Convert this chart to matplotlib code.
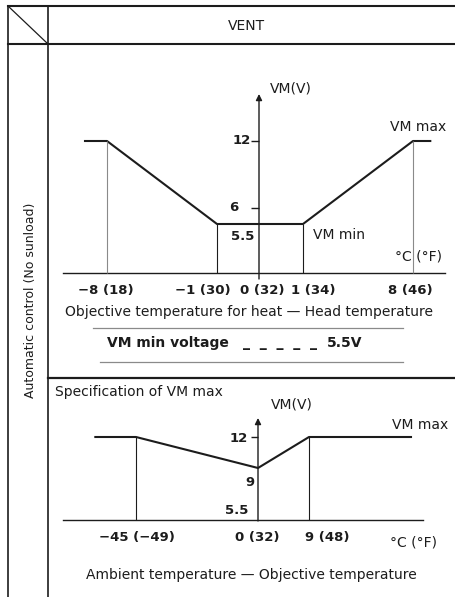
import numpy as np
import matplotlib.pyplot as plt
from matplotlib.markers import TICKLEFT

W, H = 455, 597
INK = '#1c1c1c'
GREY = '#8a8a8a'

# upper chart: objective temperature for heat - head temperature
heat_c = [-8, -1, 0, 1, 8]
heat_f = [18, 30, 32, 34, 46]
heat_curve_x = [-9.4, -8, -1, 1, 8, 9.1]
heat_curve_y = [12, 12, 5.5, 5.5, 12, 12]
heat_yticks = [12, 6, 5.5]
vm_min = 5.5
vm_max = 12

# lower chart: ambient temperature - objective temperature
amb_c = [-45, 0, 9]
amb_f = [-49, 32, 48]
amb_curve_x = [-60, -45, 0, 9, 27]
amb_curve_y = [12, 12, 9, 12, 12]
amb_yticks = [12, 9, 5.5]


def piecewise(vals, pix):
    # schematic (non-uniform) axis: piecewise linear between breakpoints
    v = np.asarray(vals, float)
    p = np.asarray(pix, float)
    k0 = (p[1] - p[0]) / (v[1] - v[0])
    k1 = (p[-1] - p[-2]) / (v[-1] - v[-2])
    big = 1e4
    v2 = np.r_[v[0] - big, v, v[-1] + big]
    p2 = np.r_[p[0] - big * k0, p, p[-1] + big * k1]
    fwd = lambda x: np.interp(x, v2, p2)
    inv = lambda y: np.interp(y, p2, v2)
    return fwd, inv


def chart_axes(fig, xv, xp, yv, yp):
    ax = fig.add_axes([0, 0, 1, 1], facecolor='none')
    fx, ix = piecewise(xv, xp)
    fy, iy = piecewise(yv, [-p for p in yp])
    ax.set_xscale('function', functions=(fx, ix))
    ax.set_yscale('function', functions=(fy, iy))
    ax.set_xlim(ix(0), ix(W))
    ax.set_ylim(iy(-H), iy(0))
    ax.axis('off')
    return ax


def label(ax, s, xy, dx, dy, ha='center', bold=False, size=10):
    ax.annotate(s, xy=xy, xytext=(dx, dy), textcoords='offset pixels',
                ha=ha, va='center', fontsize=size, color=INK,
                fontweight='bold' if bold else 'normal')


def tick_label(ax, s, xy, dx, dy, ha='center'):
    label(ax, s, xy, dx, dy, ha=ha, bold=True, size=9.5)


def vaxis(ax, top_px, bottom_px):
    tr = ax.get_xaxis_transform()
    ax.annotate('', xy=(0, 1 - top_px / H), xytext=(0, 1 - bottom_px / H),
                xycoords=tr, textcoords=tr,
                arrowprops=dict(arrowstyle='-|>', lw=1.0, color=INK,
                                mutation_scale=9, shrinkA=0, shrinkB=0))


fig = plt.figure(figsize=(W / 100, H / 100), dpi=100)
fig.patch.set_facecolor('white')

# table frame
fr = fig.add_axes([0, 0, 1, 1])
fr.set_xlim(0, W)
fr.set_ylim(H, 0)
fr.axis('off')
fr.plot([8, W], [6, 6], color=INK, lw=1.5)
fr.plot([8, W], [44, 44], color=INK, lw=1.5)
fr.plot([8, 8], [6, H], color=INK, lw=1.2)
fr.plot([48, 48], [6, H], color=INK, lw=1.2)
fr.plot([8, 48], [6, 44], color=INK, lw=0.9)
fr.plot([48, W], [378, 378], color=INK, lw=1.6)
fr.plot([93, 403], [328, 328], color=GREY, lw=0.9)
fr.plot([100, 403], [362, 362], color=GREY, lw=0.9)
fr.text(246, 26, 'VENT', ha='center', va='center', fontsize=10, color=INK)
fr.text(31, 300, 'Automatic control (No sunload)', rotation=90,
        ha='center', va='center', fontsize=9, color=INK)
fr.text(249, 312, 'Objective temperature for heat \u2014 Head temperature',
        ha='center', va='center', fontsize=10, color=INK)
fr.text(229, 343, 'VM min voltage', ha='right', va='center',
        fontsize=10, fontweight='bold', color=INK)
fr.text(280, 343, '_  _  _  _  _', ha='center', va='center',
        fontsize=10, fontweight='bold', color=INK)
fr.text(327, 343, f'{vm_min}V', ha='left', va='center',
        fontsize=10, fontweight='bold', color=INK)
fr.text(55, 392, 'Specification of VM max', ha='left', va='center',
        fontsize=10, color=INK)
fr.text(251, 575, 'Ambient temperature \u2014 Objective temperature',
        ha='center', va='center', fontsize=10, color=INK)

# upper chart
ax1 = chart_axes(fig, heat_c, [107, 217, 259, 303, 413],
                 [0, 5.5, 6, 12], [273, 224, 208, 141])
ax1.axhline(0, xmin=63 / W, xmax=445 / W, color=INK, lw=1.0)
vaxis(ax1, 94, 279)
ax1.plot(heat_curve_x, heat_curve_y, color=INK, lw=1.5)
ax1.vlines([heat_c[0], heat_c[-1]], 0, vm_max, color=GREY, lw=0.8)
ax1.vlines([heat_c[1], heat_c[3]], 0, vm_min, color=INK, lw=0.8)
ax1.plot([0, 0], heat_yticks[:2], ls='none', marker=TICKLEFT, ms=6,
         mew=1.0, color=INK)
for t, f, dx in zip(heat_c, heat_f, [-1, -14, 3, 10, -3]):
    tick_label(ax1, f'{t:d} ({f})'.replace('-', '\u2212'), (t, 0), dx, -18)
tick_label(ax1, '12', (0, 12), -8, 0, ha='right')
tick_label(ax1, '6', (0, 6), -21, 0, ha='right')
tick_label(ax1, '5.5', (0, 5.5), -5, -13, ha='right')
label(ax1, 'VM(V)', (0, 12), 32, 52)
label(ax1, 'VM max', (8, 12), -23, 14, ha='left')
label(ax1, 'VM min', (1, 5.5), 10, -11, ha='left')
label(ax1, '\u00b0C (\u00b0F)', (8, 0), -18, 16, ha='left')

# lower chart
ax2 = chart_axes(fig, amb_c, [136, 258, 309],
                 [0, 5.5, 9, 12], [520, 510, 468, 437])
ax2.axhline(0, xmin=63 / W, xmax=423 / W, color=INK, lw=1.0)
vaxis(ax2, 418, 521)
ax2.plot(amb_curve_x, amb_curve_y, color=INK, lw=1.5)
ax2.vlines([amb_c[0], amb_c[2]], 0, vm_max, color=INK, lw=0.8)
ax2.plot([0], [12], ls='none', marker=TICKLEFT, ms=5, mew=1.0, color=INK)
for t, f, dx in zip(amb_c, amb_f, [1, -1, 18]):
    tick_label(ax2, f'{t:d} ({f})'.replace('-', '\u2212'), (t, 0), dx, -18)
tick_label(ax2, '12', (0, 12), -10, -2, ha='right')
tick_label(ax2, '9', (0, 9), -3, -15, ha='right')
tick_label(ax2, '5.5', (0, 5.5), -10, 0, ha='right')
label(ax2, 'VM(V)', (0, 12), 34, 32)
label(ax2, 'VM max', (9, 12), 83, 12, ha='left')
label(ax2, '\u00b0C (\u00b0F)', (9, 0), 81, -23, ha='left')

fig.savefig('out.png', dpi=100, facecolor='white')
